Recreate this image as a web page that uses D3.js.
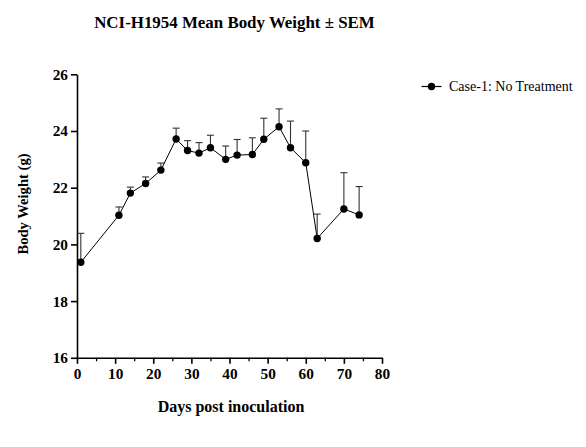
<!DOCTYPE html>
<html><head><meta charset="utf-8">
<script src="https://cdn.jsdelivr.net/npm/d3@7"></script>
<style>body{margin:0;background:#fff}svg{display:block}</style>
</head><body>
<svg id="c" width="586" height="447"></svg>
<script>
const days = [1, 11, 14, 18, 22, 26, 29, 32, 35, 39, 42, 46, 49, 53, 56, 60, 63, 70, 74];
const means = [19.37, 21.03, 21.81, 22.15, 22.62, 23.72, 23.31, 23.22, 23.41, 23.0, 23.15, 23.17, 23.71, 24.15, 23.41, 22.88, 20.21, 21.25, 21.04];
const sems = [1.02, 0.29, 0.21, 0.23, 0.25, 0.38, 0.35, 0.37, 0.44, 0.47, 0.55, 0.59, 0.74, 0.63, 0.94, 1.12, 0.86, 1.28, 1.0];
const xTicks = [0, 10, 20, 30, 40, 50, 60, 70, 80];
const xMinor = [5, 15, 25, 35, 45, 55, 65, 75];
const yTicks = [16, 18, 20, 22, 24, 26];
const seriesName = "Case-1: No Treatment";
const title = "NCI-H1954 Mean Body Weight ± SEM";

const svg = d3.select("#c");
const font = "'Liberation Serif','Times New Roman',serif";
const x = d3.scaleLinear().domain([0, 80]).range([77, 382]);
const y = d3.scaleLinear().domain([16, 26]).range([357.8, 74.3]);

svg.append("text").attr("x", 234.5).attr("y", 28.3).attr("text-anchor", "middle")
  .style("font-family", font).style("font-weight", "bold").style("font-size", "16.9px").text(title);

// minor x ticks
const gxm = svg.append("g").attr("transform", `translate(0,${y(16)})`)
  .call(d3.axisBottom(x).tickValues(xMinor).tickSize(3.5).tickFormat(""));
gxm.select(".domain").remove();
gxm.selectAll("line").attr("stroke-width", 1.3);

const gx = svg.append("g").attr("transform", `translate(0,${y(16)})`)
  .call(d3.axisBottom(x).tickValues(xTicks).tickSize(6).tickSizeOuter(0).tickPadding(4));
gx.select(".domain").attr("stroke-width", 1.6);
gx.selectAll("line").attr("stroke-width", 1.6);
gx.selectAll("text").style("font-family", font).style("font-weight", "bold").style("font-size", "15.3px").attr("fill", "#000");

const gy = svg.append("g").attr("transform", `translate(${x(0)},0)`)
  .call(d3.axisLeft(y).tickValues(yTicks).tickSize(6).tickSizeOuter(0).tickPadding(3));
gy.select(".domain").attr("stroke-width", 1.6);
gy.selectAll("line").attr("stroke-width", 1.6);
gy.selectAll("text").style("font-family", font).style("font-weight", "bold").style("font-size", "15.3px").attr("fill", "#000");

svg.append("text").attr("transform", `translate(28,204) rotate(-90)`).attr("text-anchor", "middle")
  .style("font-family", font).style("font-weight", "bold").style("font-size", "14.6px").text("Body Weight (g)");
svg.append("text").attr("x", 231).attr("y", 412).attr("text-anchor", "middle")
  .style("font-family", font).style("font-weight", "bold").style("font-size", "16px").text("Days post inoculation");

const data = days.map((d, i) => ({d, m: means[i], s: sems[i]}));

// error bars (upper only)
const eb = svg.append("g").attr("stroke", "#333").attr("stroke-width", 1.1);
data.forEach(p => {
  eb.append("line").attr("x1", x(p.d)).attr("x2", x(p.d)).attr("y1", y(p.m)).attr("y2", y(p.m + p.s));
  eb.append("line").attr("x1", x(p.d) - 3.5).attr("x2", x(p.d) + 3.5).attr("y1", y(p.m + p.s)).attr("y2", y(p.m + p.s));
});

svg.append("path").datum(data).attr("fill", "none").attr("stroke", "#000").attr("stroke-width", 1)
  .attr("d", d3.line().x(p => x(p.d)).y(p => y(p.m)));

svg.append("g").selectAll("circle").data(data).join("circle")
  .attr("cx", p => x(p.d)).attr("cy", p => y(p.m)).attr("r", 3.7).attr("fill", "#000");

// legend
const lg = svg.append("g");
lg.append("line").attr("x1", 421.5).attr("x2", 441.5).attr("y1", 86.5).attr("y2", 86.5).attr("stroke", "#000").attr("stroke-width", 1.2);
lg.append("circle").attr("cx", 431.5).attr("cy", 86.5).attr("r", 3.7).attr("fill", "#000");
lg.append("text").attr("x", 449).attr("y", 91).style("font-family", font).style("font-size", "14px").text(seriesName);
</script>
</body></html>
